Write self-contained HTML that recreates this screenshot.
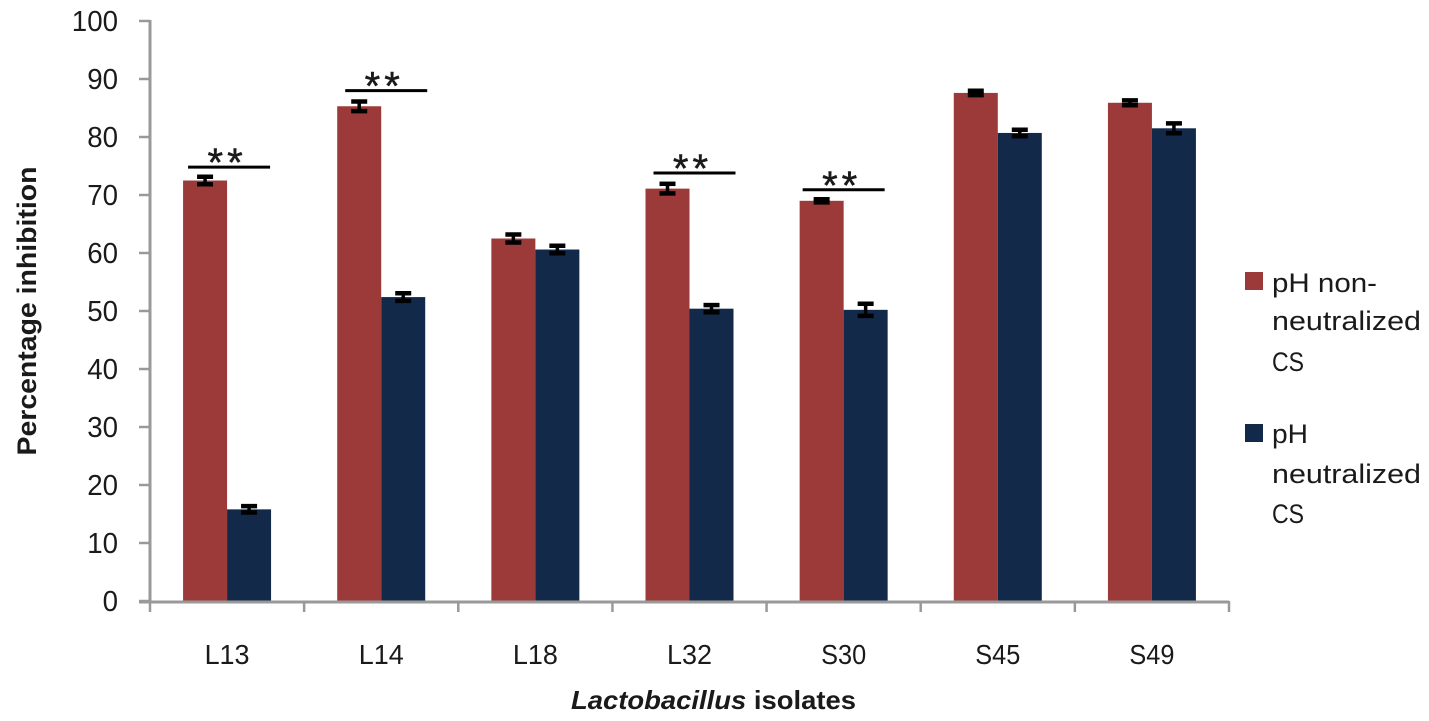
<!DOCTYPE html>
<html lang="en">
<head>
<meta charset="utf-8">
<title>Percentage inhibition by Lactobacillus isolates</title>
<style>
html,body{margin:0;padding:0;background:#fff;width:1429px;height:721px;overflow:hidden}
svg{display:block}
text{font-family:"Liberation Sans",sans-serif;fill:#1a1a1a}
</style>
</head>
<body>
<svg id="chart" xmlns="http://www.w3.org/2000/svg" width="1429" height="721" viewBox="0 0 1429 721">
  <rect x="0" y="0" width="1429" height="721" fill="#ffffff"/>
  <g id="marks"></g>
  <g id="axes"></g>
  <text transform="translate(36,311) rotate(-90)" text-anchor="middle" font-size="27" font-weight="bold" textLength="289" lengthAdjust="spacingAndGlyphs">Percentage inhibition</text>
  <text x="713.5" y="709" text-anchor="middle" font-size="26" font-weight="bold" textLength="285" lengthAdjust="spacingAndGlyphs"><tspan font-style="italic">Lactobacillus</tspan> isolates</text>
  <g>
    <g>
      <rect x="1245" y="272" width="18" height="18" fill="#9b3a38"/>
      <text x="1272" y="292" font-size="27" textLength="105" lengthAdjust="spacingAndGlyphs">pH non-</text>
      <text x="1272" y="330" font-size="27" textLength="149" lengthAdjust="spacingAndGlyphs">neutralized</text>
      <text x="1272" y="371" font-size="27" textLength="32" lengthAdjust="spacingAndGlyphs">CS</text>
    </g>
    <g>
      <rect x="1245" y="424" width="18" height="18" fill="#12294a"/>
      <text x="1272" y="443" font-size="27" textLength="36" lengthAdjust="spacingAndGlyphs">pH</text>
      <text x="1272" y="483" font-size="27" textLength="149" lengthAdjust="spacingAndGlyphs">neutralized</text>
      <text x="1272" y="523" font-size="27" textLength="32" lengthAdjust="spacingAndGlyphs">CS</text>
    </g>
  </g>
</svg>
<script>
var categories = ['L13', 'L14', 'L18', 'L32', 'S30', 'S45', 'S49'];
var nonNeutralized = [72.5, 85.3, 62.5, 71.1, 69.0, 87.6, 85.9];
var neutralized = [15.8, 52.4, 60.6, 50.4, 50.2, 80.7, 81.5];
var nonNeutralizedError = [0.65, 0.83, 0.68, 0.83, 0.27, 0.38, 0.42];
var neutralizedError = [0.55, 0.65, 0.65, 0.62, 1.05, 0.56, 0.85];
var significance = [74.8, 88.0, null, 73.8, 70.9, null, null];
var yTicks = [0, 10, 20, 30, 40, 50, 60, 70, 80, 90, 100];

var NS = 'http://www.w3.org/2000/svg';
var plotLeft = 150, plotRight = 1229, plotBottom = 601, plotTop = 21, barWidth = 44;
var bandWidth = (plotRight - plotLeft) / categories.length;
var yMax = yTicks[yTicks.length - 1];

function yScale(v) { return plotBottom - (v / yMax) * (plotBottom - plotTop); }
function bandLeft(i) { return plotLeft + i * bandWidth; }
function bandCenter(i) { return bandLeft(i) + bandWidth / 2; }
function bracketNudge(i) {
  if (i === 0) { return -1; }
  if (i === 4) { return -3; }
  return 2;
}

function make(parent, tag, attrs, text) {
  var el = document.createElementNS(NS, tag);
  for (var k in attrs) { el.setAttribute(k, attrs[k]); }
  if (text !== undefined) { el.textContent = text; }
  parent.appendChild(el);
  return el;
}

var marks = document.getElementById('marks');
var axes = document.getElementById('axes');

function drawSeries(values, offset, color, label) {
  values.forEach(function (v, i) {
    var x = bandCenter(i) + offset;
    var bar = make(marks, 'rect', { x: x, y: yScale(v), width: barWidth, height: plotBottom - yScale(v), fill: color });
    
    
  });
}

function drawErrors(values, errors, offset, label) {
  values.forEach(function (v, i) {
    var cx = bandCenter(i) + offset + barWidth / 2;
    var top = yScale(v + errors[i]);
    var bottom = yScale(v - errors[i]);
    var g = make(marks, 'g', { stroke: '#000000', fill: 'none' });
    
    
    make(g, 'line', { x1: cx, x2: cx, y1: top, y2: bottom, 'stroke-width': 3.5 });
    make(g, 'line', { x1: cx - 8, x2: cx + 8, y1: top, y2: top, 'stroke-width': 4.5 });
    make(g, 'line', { x1: cx - 8, x2: cx + 8, y1: bottom, y2: bottom, 'stroke-width': 4.5 });
  });
}

drawSeries(nonNeutralized, -barWidth, '#9b3a38', 'non-neutralized');
drawSeries(neutralized, 0, '#12294a', 'neutralized');
drawErrors(nonNeutralized, nonNeutralizedError, -barWidth, 'non-neutralized');
drawErrors(neutralized, neutralizedError, 0, 'neutralized');

significance.forEach(function (v, i) {
  if (v === null) { return; }
  var left = bandCenter(i) - 38 + bracketNudge(i);
  var y = yScale(v);
  var line = make(marks, 'line', { x1: left, x2: left + 82, y1: y, y2: y, stroke: '#000000', 'stroke-width': 3 });
  
  
  var stars = make(marks, 'text', { x: left + 41 - 2, y: y + 9, 'text-anchor': 'middle', 'font-size': 40, 'letter-spacing': 4, stroke: '#1a1a1a', 'stroke-width': 0.5 }, '**');
  
  
});

yTicks.forEach(function (t) {
  var y = yScale(t);
  var tick = make(axes, 'line', { x1: 139, x2: plotLeft, y1: y, y2: y, stroke: '#999999', 'stroke-width': 2.5 });
  
  
  var str = String(t);
  var label = make(axes, 'text', { x: 118, y: y + 10, 'text-anchor': 'end', 'font-size': 29, textLength: str.length * 15.4, lengthAdjust: 'spacingAndGlyphs' }, str);
  
  
});

for (var b = 0; b <= categories.length; b++) {
  var xTick = make(axes, 'line', { x1: bandLeft(b), x2: bandLeft(b), y1: plotBottom, y2: 612, stroke: '#999999', 'stroke-width': 2.5 });
  
  
}

categories.forEach(function (c, i) {
  var label = make(axes, 'text', { x: bandCenter(i), y: 664, 'text-anchor': 'middle', 'font-size': 28, textLength: 45, lengthAdjust: 'spacingAndGlyphs' }, c);
  
  
});

var yAxis = make(axes, 'line', { x1: plotLeft, x2: plotLeft, y1: plotTop - 1, y2: 603, stroke: '#999999', 'stroke-width': 3 });


var xAxis = make(axes, 'line', { x1: 139, x2: plotRight, y1: 602, y2: 602, stroke: '#999999', 'stroke-width': 3 });


</script>
</body>
</html>
